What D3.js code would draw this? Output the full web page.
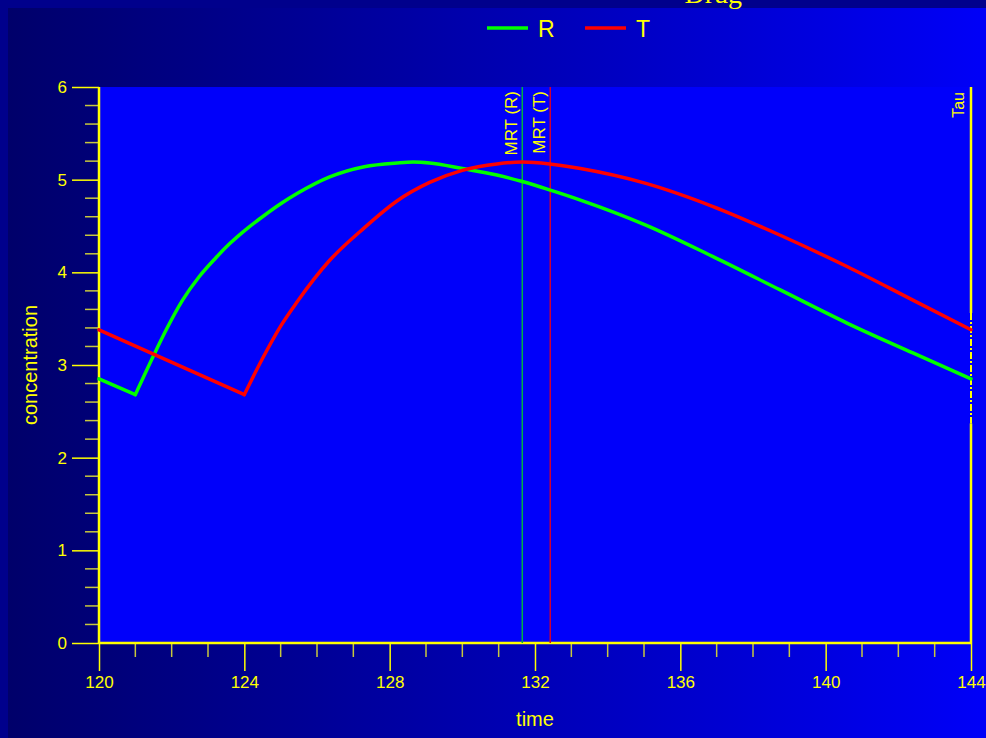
<!DOCTYPE html>
<html><head><meta charset="utf-8">
<script src="https://cdn.jsdelivr.net/npm/d3@7"></script>
<style>html,body{margin:0;padding:0;background:#00008c;overflow:hidden}</style>
</head><body>
<script>
// ---- data ----
const timeR = [120, 121, 121.5, 121.85, 122.3, 122.75, 123.2, 123.6, 124.1, 124.5, 125, 125.45, 126.35, 127.3, 128.2, 128.65, 129.1, 130, 130.95, 131.65, 132.4, 133.25, 135.05, 136.9, 138.75, 140.6, 142.4, 144];
const concR = [2.85, 2.68, 3.10, 3.38, 3.70, 3.95, 4.15, 4.31, 4.48, 4.60, 4.74, 4.85, 5.03, 5.14, 5.18, 5.19, 5.18, 5.12, 5.05, 4.98, 4.89, 4.78, 4.51, 4.17, 3.81, 3.45, 3.13, 2.85];
const timeT = [120, 124, 124.5, 125, 125.45, 126.35, 127.3, 128.2, 129.1, 130, 130.95, 131.65, 132.4, 133.25, 135.05, 136.9, 138.75, 140.6, 142.4, 144];
const concT = [3.38, 2.68, 3.07, 3.42, 3.68, 4.13, 4.48, 4.77, 4.97, 5.10, 5.17, 5.19, 5.17, 5.12, 4.96, 4.71, 4.40, 4.06, 3.70, 3.38];
const lagR = 121, lagT = 124;   // time of the kink (absorption start)
const seriesNames = ["R", "T"];
const mrtNames = ["MRT (R)", "MRT (T)"];
const mrtTimes = [131.65, 132.42];
const tauTime = 144;
const tauDashRange = [2.37, 3.56];
const xTicks = [120, 124, 128, 132, 136, 140, 144];
const yTicks = [0, 1, 2, 3, 4, 5, 6];

const W = 986, H = 738;
const colors = {R: "#00ff00", T: "#ff0000"};
const mrtColors = ["#00b040", "#d00030"];
const yellow = "#ffff00", minorCol = "#c8c83c";
const font = "'Liberation Sans', Arial, sans-serif";

const svg = d3.select("body").append("svg").attr("width", W).attr("height", H);
const defs = svg.append("defs");
const g1 = defs.append("linearGradient").attr("id", "panel").attr("x1", "0").attr("x2", "1").attr("y1", "0").attr("y2", "0");
g1.append("stop").attr("offset", "0").attr("stop-color", "#00006a");
g1.append("stop").attr("offset", "1").attr("stop-color", "#0000f8");
svg.append("rect").attr("width", W).attr("height", H).attr("fill", "#00008c");
svg.append("rect").attr("x", 8).attr("y", 8).attr("width", W - 8).attr("height", H - 8).attr("fill", "url(#panel)");

// title fragment (cut off at top, as in the reference)
svg.append("text").attr("x", 742).attr("y", 3).attr("text-anchor", "end")
  .attr("font-family", "'Liberation Serif', serif").attr("font-size", 28).attr("fill", yellow).text("Drug");

const x = d3.scaleLinear().domain([120, 144]).range([99, 971]);
const y = d3.scaleLinear().domain([0, 6]).range([643, 87]);

svg.append("rect").attr("x", x(120)).attr("y", y(6)).attr("width", x(144) - x(120)).attr("height", y(0) - y(6)).attr("fill", "#0000fa");

// minor ticks
const xMinor = d3.range(120, 144.01, 1).filter(v => !xTicks.includes(v));
svg.append("g").selectAll("line").data(xMinor).join("line")
  .attr("x1", d => x(d)).attr("x2", d => x(d)).attr("y1", y(0)).attr("y2", y(0) + 14)
  .attr("stroke", minorCol).attr("stroke-width", 1.5);
const yMinor = d3.range(0, 6.001, 0.2).map(v => +v.toFixed(1)).filter(v => Math.abs(v - Math.round(v)) > 0.01);
svg.append("g").selectAll("line").data(yMinor).join("line")
  .attr("x1", x(120) - 14).attr("x2", x(120)).attr("y1", d => y(d)).attr("y2", d => y(d))
  .attr("stroke", minorCol).attr("stroke-width", 1.5);

// axes
const xAxis = d3.axisBottom(x).tickValues(xTicks).tickSize(28).tickPadding(5).tickFormat(d3.format("d"));
const gx = svg.append("g").attr("transform", `translate(0,${y(0)})`).call(xAxis);
const yAxis = d3.axisLeft(y).tickValues(yTicks).tickSize(27).tickPadding(5).tickFormat(d3.format("d"));
const gy = svg.append("g").attr("transform", `translate(${x(120)},0)`).call(yAxis);
[gx, gy].forEach(g => {
  g.select(".domain").remove();
  g.selectAll(".tick line").attr("stroke", yellow).attr("stroke-width", 1.5);
  g.selectAll(".tick text").attr("fill", yellow).attr("font-family", font).attr("font-size", 17);
});
svg.append("line").attr("x1", x(120)).attr("x2", x(144)).attr("y1", y(0)).attr("y2", y(0)).attr("stroke", yellow).attr("stroke-width", 2.5);
svg.append("line").attr("x1", x(120)).attr("x2", x(120)).attr("y1", y(6)).attr("y2", y(0)).attr("stroke", yellow).attr("stroke-width", 2.5);

// MRT lines
mrtTimes.forEach((t, i) => {
  svg.append("line").attr("x1", x(t)).attr("x2", x(t)).attr("y1", y(6)).attr("y2", y(0))
    .attr("stroke", mrtColors[i]).attr("stroke-width", 1.5);
  svg.append("text").attr("transform", `translate(${x(t) - 5},${y(6) + 4}) rotate(-90)`)
    .attr("text-anchor", "end").attr("fill", yellow).attr("font-family", font).attr("font-size", 17).text(mrtNames[i]);
});

// Tau line
svg.append("line").attr("x1", x(tauTime)).attr("x2", x(tauTime)).attr("y1", y(6)).attr("y2", y(tauDashRange[1]))
  .attr("stroke", yellow).attr("stroke-width", 2.5);
svg.append("line").attr("x1", x(tauTime)).attr("x2", x(tauTime)).attr("y1", y(tauDashRange[0])).attr("y2", y(0))
  .attr("stroke", yellow).attr("stroke-width", 2.5);
svg.append("line").attr("x1", x(tauTime)).attr("x2", x(tauTime)).attr("y1", y(tauDashRange[1])).attr("y2", y(tauDashRange[0]))
  .attr("stroke", yellow).attr("stroke-width", 2).attr("stroke-dasharray", "7,2,2,2");
svg.append("text").attr("transform", `translate(${x(tauTime) - 7},${y(6) + 5}) rotate(-90)`)
  .attr("text-anchor", "end").attr("fill", yellow).attr("font-family", font).attr("font-size", 16).text("Tau");

// curves: linear decay before the kink, smooth curve after
const lineLin = d3.line().x(d => x(d[0])).y(d => y(d[1]));
const lineSmooth = d3.line().curve(d3.curveMonotoneX).x(d => x(d[0])).y(d => y(d[1]));
function drawSeries(times, vals, lag, col) {
  const data = times.map((t, i) => [t, vals[i]]);
  const pre = data.filter(d => d[0] <= lag);
  const post = data.filter(d => d[0] >= lag);
  const gS = svg.append("g").attr("fill", "none").attr("stroke", col).attr("stroke-width", 3.5)
    .attr("stroke-linejoin", "round").attr("stroke-linecap", "round");
  gS.append("path").datum(pre).attr("d", lineLin);
  gS.append("path").datum(post).attr("d", lineSmooth);
}
drawSeries(timeR, concR, lagR, colors.R);
drawSeries(timeT, concT, lagT, colors.T);

// axis titles
svg.append("text").attr("x", 535).attr("y", 726).attr("text-anchor", "middle").attr("fill", yellow)
  .attr("font-family", font).attr("font-size", 20).text("time");
svg.append("text").attr("transform", "translate(37,365) rotate(-90)").attr("text-anchor", "middle").attr("fill", yellow)
  .attr("font-family", font).attr("font-size", 20).text("concentration");

// legend
const legX = [487, 585];
seriesNames.forEach((s, i) => {
  svg.append("line").attr("x1", legX[i]).attr("x2", legX[i] + 41).attr("y1", 28).attr("y2", 28)
    .attr("stroke", colors[s]).attr("stroke-width", 3.5);
  svg.append("text").attr("x", legX[i] + 51).attr("y", 37).attr("fill", yellow)
    .attr("font-family", font).attr("font-size", 23).text(s);
});
</script>
</body></html>
